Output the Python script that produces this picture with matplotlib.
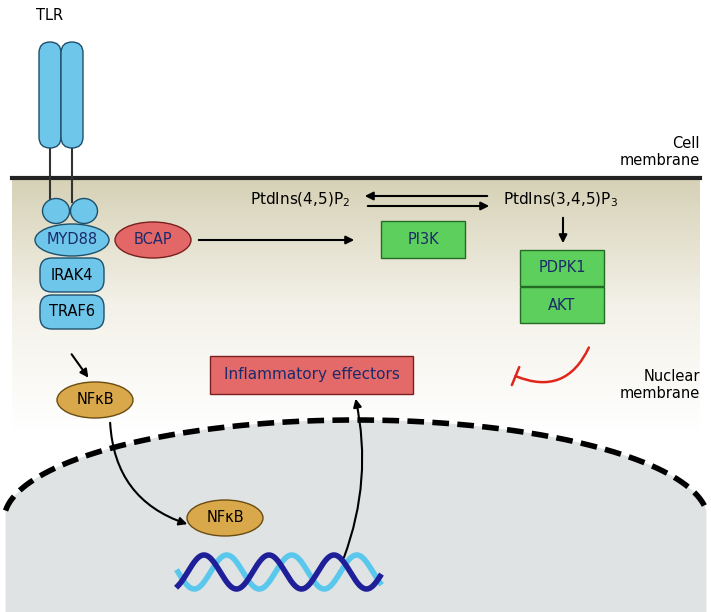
import numpy as np
import matplotlib.pyplot as plt
from matplotlib.patches import Ellipse, FancyBboxPatch, FancyArrowPatch, Rectangle
from matplotlib.colors import LinearSegmentedColormap

W, H = 711, 612
fig = plt.figure(figsize=(W / 100, H / 100), dpi=100)
ax = fig.add_axes([0, 0, 1, 1])
ax.set_xlim(0, W)
ax.set_ylim(H, 0)
ax.axis('off')

# cytoplasm gradient below membrane
grad = np.linspace(0, 1, 256)[:, None]
cm = LinearSegmentedColormap.from_list('g', ['#d6d1b6', '#f3f1e8', '#ffffff'])
ax.imshow(grad, cmap=cm, extent=[12, 700, 430, 178], aspect='auto', zorder=0)

# nucleus: flattened arc
a, b, cx, cy = 352, 100, 356, 520
t = np.linspace(np.pi * 1.03, np.pi * 1.97, 200)
xs_n = cx + a * np.cos(t)
ys_n = cy + b * np.sin(t)
ax.fill(np.r_[xs_n, xs_n[-1], xs_n[0]], np.r_[ys_n, H, H], color='#dfe3e3', lw=0, zorder=1)
ax.plot(xs_n, ys_n, color='black', lw=4, ls=(0, (3, 1.5)), zorder=2)

# cell membrane
ax.plot([12, 700], [178, 178], color='#222222', lw=3, zorder=3)
ax.text(700, 152, 'Cell\nmembrane', ha='right', va='center', fontsize=10.5, zorder=5)
ax.text(700, 385, 'Nuclear\nmembrane', ha='right', va='center', fontsize=10.5, zorder=5)

# TLR
blue = '#6ec6ea'
edge = '#1d4f6b'
ax.text(50, 16, 'TLR', ha='center', va='center', fontsize=10.5)
for x0 in (39, 61):
    ax.add_patch(FancyBboxPatch((x0, 42), 22, 106, boxstyle='round,pad=0,rounding_size=11',
                                facecolor=blue, edgecolor=edge, lw=1, zorder=4))
    ax.plot([x0 + 11, x0 + 11], [148, 202], color='#333333', lw=1.5, zorder=3)
for ccx in (56, 84):
    ax.add_patch(Ellipse((ccx, 211), 27, 25, facecolor=blue, edgecolor=edge, lw=1, zorder=4))

ax.add_patch(Ellipse((72, 240), 74, 32, facecolor=blue, edgecolor=edge, lw=1, zorder=5))
ax.text(72, 240, 'MYD88', ha='center', va='center', fontsize=10.5, color='#1b2a6b', zorder=6)
for y, lab in ((258, 'IRAK4'), (295, 'TRAF6')):
    ax.add_patch(FancyBboxPatch((40, y), 64, 34, boxstyle='round,pad=0,rounding_size=12',
                                facecolor=blue, edgecolor=edge, lw=1, zorder=4))
    ax.text(72, y + 17, lab, ha='center', va='center', fontsize=10.5, zorder=6)

# BCAP
ax.add_patch(Ellipse((153, 240), 76, 36, facecolor='#e36767', edgecolor='#7a1f1f', lw=1, zorder=5))
ax.text(153, 240, 'BCAP', ha='center', va='center', fontsize=10.5, color='#1b2a6b', zorder=6)


def arrow(p, q, color='black', rad=0.0, style='-|>', lw=1.5):
    ax.add_patch(FancyArrowPatch(p, q, arrowstyle=style, mutation_scale=12, color=color, lw=lw,
                                 connectionstyle='arc3,rad=%s' % rad, zorder=6))


arrow((196, 240), (357, 240))

# PtdIns
ax.text(300, 200, r'PtdIns(4,5)P$_2$', ha='center', va='center', fontsize=11)
ax.text(560, 200, r'PtdIns(3,4,5)P$_3$', ha='center', va='center', fontsize=11)
arrow((490, 196), (362, 196))
arrow((365, 206), (492, 206))


def gbox(x, y, w, h, lab, fc='#5ccf5c', ec='#246b24', fs=10.5):
    ax.add_patch(Rectangle((x, y), w, h, facecolor=fc, edgecolor=ec, lw=1, zorder=5))
    ax.text(x + w / 2, y + h / 2, lab, ha='center', va='center', fontsize=fs, color='#1b2a6b', zorder=6)


gbox(381, 221, 84, 37, 'PI3K')
arrow((563, 215), (563, 246))
gbox(520, 250, 84, 36, 'PDPK1')
gbox(520, 287, 84, 36, 'AKT')

# inflammatory effectors
gbox(210, 356, 203, 38, 'Inflammatory effectors', fc='#e46a6a', ec='#7a1f1f', fs=11)
ax.add_patch(FancyArrowPatch((590, 345), (513, 375), arrowstyle='-[,widthB=0.5,lengthB=0', mutation_scale=14,
                             color='#e0261b', lw=1.8, connectionstyle='arc3,rad=-0.5', zorder=6))

# NFkB
gold = '#d8a84a'
arrow((70, 352), (90, 380))
ax.add_patch(Ellipse((95, 400), 76, 36, facecolor=gold, edgecolor='#6b4b12', lw=1, zorder=5))
ax.text(95, 400, 'NFκB', ha='center', va='center', fontsize=10.5, zorder=6)
arrow((110, 420), (190, 525), rad=0.35)
ax.add_patch(Ellipse((225, 518), 76, 36, facecolor=gold, edgecolor='#6b4b12', lw=1, zorder=5))
ax.text(225, 518, 'NFκB', ha='center', va='center', fontsize=10.5, zorder=6)

# DNA
xs = np.linspace(178, 380, 300)
ax.plot(xs, 572 + 17 * np.sin((xs - 178) / 65 * 2 * np.pi), color='#5ac8ec', lw=4, zorder=4)
ax.plot(xs, 572 + 17 * np.sin((xs - 178) / 65 * 2 * np.pi + 2.2), color='#1f1f9a', lw=4, zorder=4)

arrow((343, 560), (355, 396), rad=0.15)

fig.savefig('out.png', dpi=100)
